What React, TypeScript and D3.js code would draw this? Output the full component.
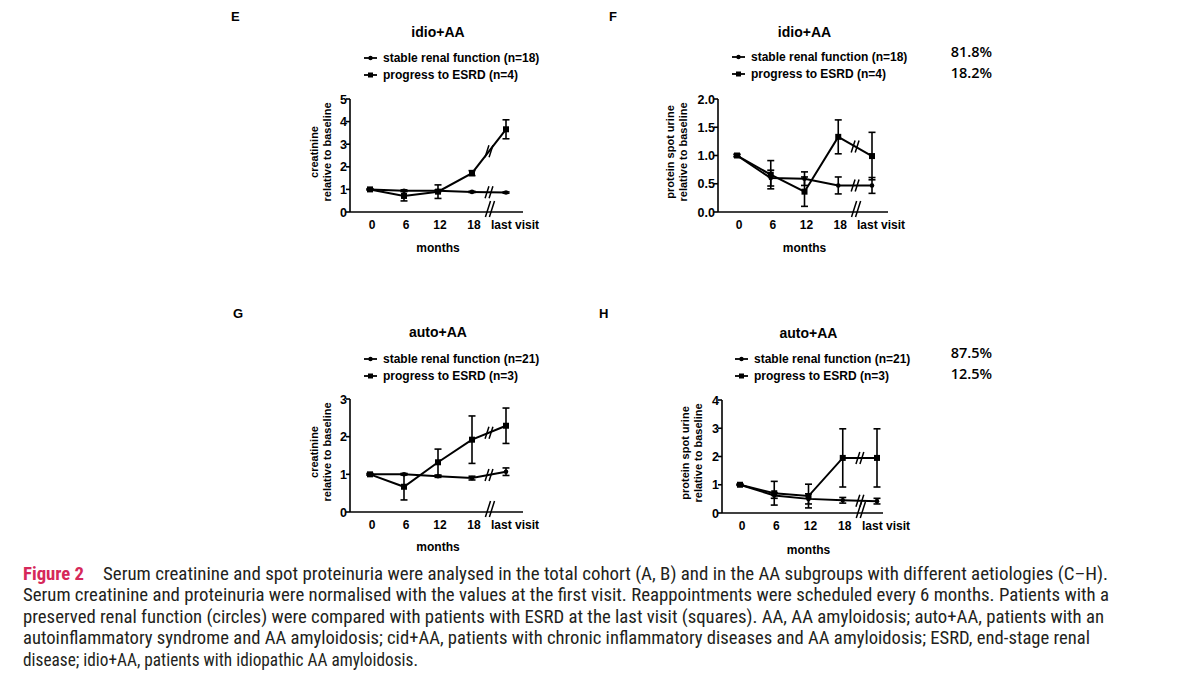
import React from "react";
import * as d3 from "d3";

// visit labels on the x axis
const visits = ["0", "6", "12", "18", "last visit"];

// idio+AA, serum creatinine relative to baseline
const idioCreaStable = [1.0, 0.94, 0.94, 0.89, 0.86];
const idioCreaStableErr = [0.02, 0.04, 0.04, 0.03, 0.03];
const idioCreaEsrd = [1.0, 0.71, 0.9, 1.72, 3.66];
const idioCreaEsrdErr = [0.03, 0.22, 0.3, 0.11, 0.42];

// idio+AA, protein spot urine relative to baseline
const idioProtStable = [1.0, 0.6, 0.59, 0.47, 0.47];
const idioProtStableErr = [0.02, 0.14, 0.12, 0.15, 0.14];
const idioProtEsrd = [1.0, 0.66, 0.36, 1.33, 0.99];
const idioProtEsrdErr = [0.02, 0.25, 0.26, 0.3, 0.42];

// auto+AA, serum creatinine relative to baseline
const autoCreaStable = [1.0, 1.0, 0.95, 0.9, 1.07];
const autoCreaStableErr = [0.02, 0.02, 0.03, 0.05, 0.1];
const autoCreaEsrd = [1.0, 0.67, 1.32, 1.92, 2.29];
const autoCreaEsrdErr = [0.02, 0.35, 0.35, 0.63, 0.47];

// auto+AA, protein spot urine relative to baseline
const autoProtStable = [1.0, 0.62, 0.5, 0.45, 0.42];
const autoProtStableErr = [0.02, 0.1, 0.18, 0.1, 0.1];
const autoProtEsrd = [1.0, 0.7, 0.6, 1.95, 1.95];
const autoProtEsrdErr = [0.02, 0.42, 0.42, 1.03, 1.03];

const idioLegend = ["stable renal function (n=18)", "progress to ESRD (n=4)"];
const autoLegend = ["stable renal function (n=21)", "progress to ESRD (n=3)"];
const idioShares = ["81.8%", "18.2%"];
const autoShares = ["87.5%", "12.5%"];

const captionLines = [
  "Serum creatinine and spot proteinuria were analysed in the total cohort (A, B) and in the AA subgroups with different aetiologies (C\u2013H).",
  "Serum creatinine and proteinuria were normalised with the values at the first visit. Reappointments were scheduled every 6 months. Patients with a",
  "preserved renal function (circles) were compared with patients with ESRD at the last visit (squares). AA, AA amyloidosis; auto+AA, patients with an",
  "autoinflammatory syndrome and AA amyloidosis; cid+AA, patients with chronic inflammatory diseases and AA amyloidosis; ESRD, end-stage renal",
  "disease; idio+AA, patients with idiopathic AA amyloidosis.",
];

const FONT = "'Liberation Sans', Arial, Helvetica, sans-serif";
const CAPTION_FONT = "'Liberation Sans Narrow', 'Roboto Condensed', Roboto, sans-serif";

const panels = [
  {
    letter: "E", letterX: 231, letterY: 21,
    title: "idio+AA", titleY: 37,
    legend: idioLegend, legendX: 364, legendY: 62,
    shares: null,
    yLabel: ["creatinine", "relative to baseline"], yLabelX: 318, yLabelY: 152,
    axisX: 350, x0: 370, x1: 506, xEnd: 523, yTop: 99, yBottom: 212,
    yMax: 5, yStep: 1, yFmt: "d", monthsY: 252,
    stable: idioCreaStable, stableErr: idioCreaStableErr,
    esrd: idioCreaEsrd, esrdErr: idioCreaEsrdErr,
  },
  {
    letter: "F", letterX: 609, letterY: 21,
    title: "idio+AA", titleY: 37,
    legend: idioLegend, legendX: 732, legendY: 61,
    shares: idioShares, sharesY: 57,
    yLabel: ["protein spot urine", "relative to baseline"], yLabelX: 674, yLabelY: 152,
    axisX: 718, x0: 737, x1: 872, xEnd: 888, yTop: 99, yBottom: 212,
    yMax: 2, yStep: 0.5, yFmt: ".1f", monthsY: 252,
    stable: idioProtStable, stableErr: idioProtStableErr,
    esrd: idioProtEsrd, esrdErr: idioProtEsrdErr,
  },
  {
    letter: "G", letterX: 233, letterY: 318,
    title: "auto+AA", titleY: 337,
    legend: autoLegend, legendX: 364, legendY: 363,
    shares: null,
    yLabel: ["creatinine", "relative to baseline"], yLabelX: 318, yLabelY: 452,
    axisX: 350, x0: 370, x1: 506, xEnd: 523, yTop: 399, yBottom: 512,
    yMax: 3, yStep: 1, yFmt: "d", monthsY: 551,
    stable: autoCreaStable, stableErr: autoCreaStableErr,
    esrd: autoCreaEsrd, esrdErr: autoCreaEsrdErr,
  },
  {
    letter: "H", letterX: 599, letterY: 318,
    title: "auto+AA", titleY: 338,
    legend: autoLegend, legendX: 735, legendY: 363,
    shares: autoShares, sharesY: 358,
    yLabel: ["protein spot urine", "relative to baseline"], yLabelX: 689, yLabelY: 453,
    axisX: 722, x0: 740, x1: 877, xEnd: 883, yTop: 400, yBottom: 513,
    yMax: 4, yStep: 1, yFmt: "d", monthsY: 554,
    stable: autoProtStable, stableErr: autoProtStableErr,
    esrd: autoProtEsrd, esrdErr: autoProtEsrdErr,
  },
];

// the "//" axis-break glyph
function breakMark(cx: number, cy: number, up: number, down: number) {
  const slope = 0.32;
  return [0, 4]
    .map(
      (dx) =>
        `M${cx - 2 + dx - down * slope},${cy + down}L${cx - 2 + dx + up * slope},${cy - up}`
    )
    .join("");
}

function Series({ x, y, values, errs, square, bx }: any) {
  const line = d3
    .line<number>()
    .x((d, i) => x(visits[i]))
    .y((d) => y(d));
  const by = y((values[3] + values[4]) / 2);
  return (
    <g>
      <path d={line(values) || ""} fill="none" stroke="#000" strokeWidth={2} />
      {values.map((v: number, i: number) => {
        const cx = x(visits[i]);
        const hi = y(v + errs[i]);
        const lo = y(Math.max(0, v - errs[i]));
        return (
          <g key={i} stroke="#000" strokeWidth={1.6}>
            <line x1={cx} x2={cx} y1={hi} y2={lo} />
            <line x1={cx - 3.5} x2={cx + 3.5} y1={hi} y2={hi} />
            <line x1={cx - 3.5} x2={cx + 3.5} y1={lo} y2={lo} />
          </g>
        );
      })}
      {values.map((v: number, i: number) =>
        square ? (
          <rect key={i} x={x(visits[i]) - 3} y={y(v) - 3} width={6} height={6} fill="#000" />
        ) : (
          <circle key={i} cx={x(visits[i])} cy={y(v)} r={2.3} fill="#000" />
        )
      )}
      <path d={breakMark(bx, by, 6, 6)} stroke="#000" strokeWidth={1.5} fill="none" />
    </g>
  );
}

function Panel({ p }: any) {
  const x = d3.scalePoint<string>().domain(visits).range([p.x0, p.x1]);
  const y = d3.scaleLinear().domain([0, p.yMax]).range([p.yBottom, p.yTop]);
  const yTicks = d3.range(0, p.yMax + p.yStep / 2, p.yStep);
  const fmt = d3.format(p.yFmt);
  const bx = ((x("18") as number) + (x("last visit") as number)) / 2;
  const mid = (p.x0 + p.x1) / 2;

  return (
    <g fontFamily={FONT} fontWeight="bold" fill="#000">
      <text x={p.letterX} y={p.letterY} fontSize={13}>{p.letter}</text>
      <text x={mid} y={p.titleY} fontSize={14} textAnchor="middle">{p.title}</text>

      {p.legend.map((t: string, i: number) => {
        const ly = p.legendY + i * 17;
        return (
          <g key={t}>
            <line x1={p.legendX} x2={p.legendX + 13} y1={ly - 4} y2={ly - 4} stroke="#000" strokeWidth={1.8} />
            {i === 0 ? (
              <circle cx={p.legendX + 6.5} cy={ly - 4} r={2.2} />
            ) : (
              <rect x={p.legendX + 4} y={ly - 6.5} width={5} height={5} />
            )}
            <text x={p.legendX + 19} y={ly} fontSize={12}>{t}</text>
          </g>
        );
      })}

      {p.shares &&
        p.shares.map((t: string, i: number) => (
          <text key={t} x={992} y={p.sharesY + i * 21} fontSize={14.5} textAnchor="end"
            fontFamily="'Open Sans', 'Liberation Sans', sans-serif" fontWeight={600}>
            {t}
          </text>
        ))}

      <g transform={`translate(${p.yLabelX},${p.yLabelY}) rotate(-90)`} fontSize={11} textAnchor="middle">
        <text x={0} y={0}>{p.yLabel[0]}</text>
        <text x={0} y={13}>{p.yLabel[1]}</text>
      </g>

      {/* y axis */}
      <line x1={p.axisX} x2={p.axisX} y1={y(p.yMax)} y2={p.yBottom} stroke="#000" strokeWidth={1.6} />
      {yTicks.map((t: number) => (
        <g key={t}>
          <line x1={p.axisX - 4} x2={p.axisX} y1={y(t)} y2={y(t)} stroke="#000" strokeWidth={1.6} />
          <text x={p.axisX - 3} y={y(t) + 4.5} fontSize={12.5} textAnchor="end">{fmt(t)}</text>
        </g>
      ))}

      {/* x axis with break */}
      <line x1={p.axisX} x2={p.xEnd} y1={p.yBottom} y2={p.yBottom} stroke="#000" strokeWidth={1.6} />
      <path d={breakMark(bx, p.yBottom, 11, 5)} stroke="#000" strokeWidth={1.5} fill="none" />
      {visits.map((v, i) => (
        <text key={v} x={(x(v) as number) + (i === 4 ? 9 : 2)} y={p.yBottom + 17} fontSize={12} textAnchor="middle">
          {v}
        </text>
      ))}
      <text x={mid} y={p.monthsY} fontSize={12} textAnchor="middle">months</text>

      <Series x={x} y={y} values={p.stable} errs={p.stableErr} square={false} bx={bx} />
      <Series x={x} y={y} values={p.esrd} errs={p.esrdErr} square={true} bx={bx} />
    </g>
  );
}

export default function App() {
  const captionEnds = [1108, 1109, 1104, 1090, 418];
  return (
    <svg width={1200} height={687} style={{ position: "absolute", left: 0, top: 0, background: "#fff" }}>
      <rect width={1200} height={687} fill="#fff" />
      {panels.map((p) => (
        <Panel key={p.letter} p={p} />
      ))}

      <g fontFamily={CAPTION_FONT} fontSize={18.5} fill="#231f20">
        <text x={23} y={580} textLength={61} lengthAdjust="spacingAndGlyphs" fill="#d6285a" fontWeight="bold">
          Figure 2
        </text>
        {captionLines.map((t, i) => {
          const x0 = i === 0 ? 103 : 23;
          return (
            <text key={i} x={x0} y={580 + i * 21.4} textLength={captionEnds[i] - x0} lengthAdjust="spacingAndGlyphs">
              {t}
            </text>
          );
        })}
      </g>
    </svg>
  );
}
